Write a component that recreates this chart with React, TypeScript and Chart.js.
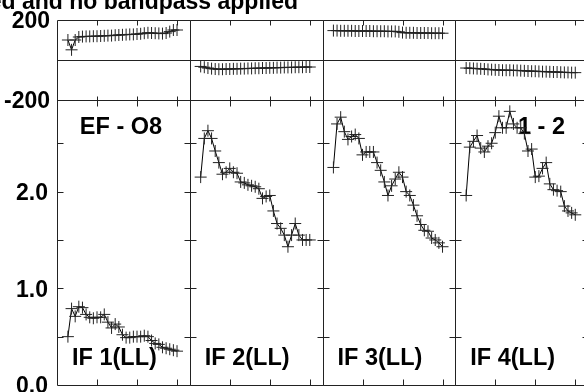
import React, { useEffect, useRef } from 'react';
import { Chart, registerables } from 'chart.js';

Chart.register(...registerables);

// ---- data ----
const CHANNELS = [1, 2, 3, 4, 5, 6, 7, 8, 9, 10, 11, 12, 13, 14, 15, 16, 17, 18, 19, 20, 21, 22, 23, 24, 25, 26, 27, 28, 29, 30, 31];
const IF_LABELS = ['IF 1(LL)', 'IF 2(LL)', 'IF 3(LL)', 'IF 4(LL)'];

const PHASE_IF1 = [100, 51, 100, 115, 117, 118, 118, 119, 119, 120, 121, 122, 122, 124, 125, 126, 127, 128, 128, 130, 131, 134, 136, 135, 134, 133, 132, 135, 142, 150, 150];
const PHASE_IF2 = [-32, -36, -40, -43, -45, -46, -46, -45, -45, -44, -44, -43, -43, -42, -42, -41, -41, -40, -40, -39, -39, -38, -38, -37, -37, -37, -36, -36, -36, -35, -35];
const PHASE_IF3 = [147, 147, 146, 146, 146, 146, 145, 145, 145, 145, 145, 144, 144, 144, 144, 143, 143, 143, 141, 137, 136, 136, 136, 135, 135, 135, 135, 134, 134, 134, 134];
const PHASE_IF4 = [-40, -41, -42, -43, -44, -45, -47, -48, -49, -50, -51, -51, -51, -52, -52, -53, -54, -55, -56, -56, -57, -58, -58, -59, -60, -60, -61, -62, -62, -63, -63];

const AMP_IF1 = [0.50, 0.79, 0.71, 0.81, 0.80, 0.73, 0.70, 0.69, 0.70, 0.70, 0.73, 0.65, 0.59, 0.63, 0.60, 0.52, 0.49, 0.49, 0.50, 0.50, 0.50, 0.51, 0.50, 0.46, 0.43, 0.42, 0.39, 0.38, 0.37, 0.36, 0.35];
const AMP_IF2 = [2.15, 2.55, 2.63, 2.55, 2.42, 2.30, 2.18, 2.20, 2.24, 2.20, 2.19, 2.10, 2.09, 2.07, 2.06, 2.05, 2.03, 1.93, 1.95, 1.96, 1.80, 1.67, 1.62, 1.55, 1.43, 1.55, 1.67, 1.55, 1.50, 1.50, 1.50];
const AMP_IF3 = [2.25, 2.70, 2.77, 2.62, 2.54, 2.57, 2.59, 2.55, 2.38, 2.41, 2.41, 2.41, 2.30, 2.22, 2.10, 1.96, 2.06, 2.13, 2.20, 2.15, 2.00, 1.96, 1.86, 1.75, 1.66, 1.60, 1.59, 1.52, 1.50, 1.47, 1.43];
const AMP_IF4 = [1.96, 2.46, 2.52, 2.58, 2.45, 2.41, 2.47, 2.50, 2.61, 2.78, 2.66, 2.66, 2.83, 2.70, 2.66, 2.66, 2.60, 2.42, 2.44, 2.15, 2.16, 2.24, 2.30, 2.08, 2.02, 2.01, 2.00, 1.85, 1.80, 1.78, 1.76];

const PHASE_SERIES = [PHASE_IF1, PHASE_IF2, PHASE_IF3, PHASE_IF4];
const AMP_SERIES = [AMP_IF1, AMP_IF2, AMP_IF3, AMP_IF4];

const X_TICKS = [9, 20, 31];
const PHASE_TICKS = [-200, 200];
const AMP_LABEL_TICKS = [0, 1, 2];
const AMP_MINOR_TICKS = [0.5, 1, 1.5, 2, 2.5];

const TITLE = 'Calibrated and no bandpass applied';
const BASELINE_LABEL = 'EF - O8';
const SCAN_LABEL = '1 - 2';

const FONT_FAMILY = '"Liberation Sans", Arial, Helvetica, sans-serif';
const BOLD_FONT = `bold 23px ${FONT_FAMILY}`;
const LABEL_FONT = `bold 23.5px ${FONT_FAMILY}`;

const px = (v: number) => Math.round(v) + 0.5;

const framePlugin = {
  id: 'aipsFrames',
  beforeDatasetsDraw(chart: any) {
    const { ctx } = chart;
    const yPh = chart.scales.yPh;
    const yAmp = chart.scales.yAmp;
    ctx.save();
    ctx.strokeStyle = '#222';
    ctx.lineWidth = 1;
    ctx.beginPath();
    for (let k = 0; k < 4; k++) {
      const xs = chart.scales['x' + k];
      const l = px(xs.left), r = px(xs.right);
      const pt = px(yPh.top), pb = px(yPh.bottom), ab = px(yAmp.bottom);
      const z = px(yPh.getPixelForValue(0));
      // frames
      ctx.moveTo(l, pt); ctx.lineTo(r, pt); ctx.lineTo(r, ab); ctx.lineTo(l, ab); ctx.closePath();
      ctx.moveTo(l, pb); ctx.lineTo(r, pb);
      ctx.moveTo(l, z); ctx.lineTo(r, z);
      // x ticks
      for (const v of X_TICKS) {
        const x = px(xs.getPixelForValue(v));
        ctx.moveTo(x, pt); ctx.lineTo(x, pt + 5);
        ctx.moveTo(x, pb - 4); ctx.lineTo(x, pb + 6);
        ctx.moveTo(x, ab - 6); ctx.lineTo(x, ab);
      }
      // amplitude y ticks on both edges
      for (const v of AMP_MINOR_TICKS) {
        const y = px(yAmp.getPixelForValue(v));
        ctx.moveTo(l, y); ctx.lineTo(l + 6, y);
        ctx.moveTo(r - 6, y); ctx.lineTo(r, y);
      }
    }
    ctx.stroke();

    // texts
    ctx.fillStyle = '#000';
    ctx.font = BOLD_FONT;
    ctx.textBaseline = 'alphabetic';
    ctx.textAlign = 'right';
    ctx.fillText(TITLE, 298, 8.5);
    ctx.font = LABEL_FONT;
    const x0 = chart.scales.x0;
    const x3 = chart.scales.x3;
    const labelY = yAmp.top + 33.5;
    ctx.textAlign = 'center';
    ctx.fillText(BASELINE_LABEL, x0.left + 64, labelY);
    ctx.textAlign = 'right';
    ctx.fillText(SCAN_LABEL, x3.right - 23, labelY);
    ctx.textAlign = 'left';
    for (let k = 0; k < 4; k++) {
      const xs = chart.scales['x' + k];
      ctx.fillText(IF_LABELS[k], xs.left + 15, yAmp.bottom - 20.5);
    }
    ctx.restore();
  },
};

function makeX() {
  return {
    type: 'linear',
    position: 'bottom',
    stack: 'panels',
    stackWeight: 1,
    min: -2,
    max: 34.5,
    display: false,
  };
}

const tickFont = { family: FONT_FAMILY, size: 23, weight: 'bold' };

export default function App() {
  const ref = useRef<HTMLCanvasElement>(null);
  useEffect(() => {
    if (!ref.current) return;
    const datasets: any[] = [];
    for (let k = 0; k < 4; k++) {
      const common = {
        xAxisID: 'x' + k,
        borderColor: '#000',
        borderWidth: 1,
        pointStyle: 'cross',
        pointRadius: 6,
        pointBorderColor: '#222',
        pointBorderWidth: 1,
        pointHoverRadius: 6,
        showLine: true,
        tension: 0,
        fill: false,
      };
      datasets.push({
        ...common,
        label: 'Phase ' + IF_LABELS[k],
        yAxisID: 'yPh',
        data: CHANNELS.map((c, i) => ({ x: c, y: PHASE_SERIES[k][i] })),
      });
      datasets.push({
        ...common,
        label: 'Amplitude ' + IF_LABELS[k],
        yAxisID: 'yAmp',
        data: CHANNELS.map((c, i) => ({ x: c, y: AMP_SERIES[k][i] })),
      });
    }
    const chart = new Chart(ref.current, {
      type: 'line',
      data: { datasets },
      options: {
        animation: false,
        responsive: false,
        maintainAspectRatio: false,
        devicePixelRatio: 1,
        layout: { padding: { left: 0, top: 20, right: 12, bottom: 4 } },
        plugins: { legend: { display: false }, tooltip: { enabled: false }, title: { display: false } },
        events: [],
        scales: {
          x0: makeX(),
          x1: makeX(),
          x2: makeX(),
          x3: makeX(),
          yPh: {
            type: 'linear',
            position: 'left',
            stack: 'rows',
            stackWeight: 80.7,
            weight: 1,
            min: -200,
            max: 200,
            grid: { display: false, drawTicks: false, tickLength: 0 },
            border: { display: false },
            afterBuildTicks: (s: any) => { s.ticks = PHASE_TICKS.map((v) => ({ value: v })); },
            afterFit: (s: any) => { s.width = 57; s.paddingTop = 0; s.paddingBottom = 0; },
            ticks: { font: tickFont, color: '#000', padding: 7, labelOffset: 2, autoSkip: false, callback: (v: any) => String(v) },
          },
          yAmp: {
            type: 'linear',
            position: 'left',
            stack: 'rows',
            stackWeight: 287.3,
            weight: 0,
            min: 0,
            max: 2.947,
            grid: { display: false, drawTicks: false, tickLength: 0 },
            border: { display: false },
            afterBuildTicks: (s: any) => { s.ticks = AMP_LABEL_TICKS.map((v) => ({ value: v })); },
            afterFit: (s: any) => { s.width = 57; s.paddingTop = 0; s.paddingBottom = 0; },
            ticks: { font: tickFont, color: '#000', padding: 9, labelOffset: 2, autoSkip: false, callback: (v: any) => Number(v).toFixed(1) },
          },
        },
      } as any,
      plugins: [framePlugin],
    });
    return () => chart.destroy();
  }, []);
  return (
    <div style={{ position: 'absolute', left: 0, top: 0, width: 584, height: 392, overflow: 'hidden', background: '#fff' }}>
      <canvas ref={ref} width={600} height={392} style={{ display: 'block' }} />
    </div>
  );
}
